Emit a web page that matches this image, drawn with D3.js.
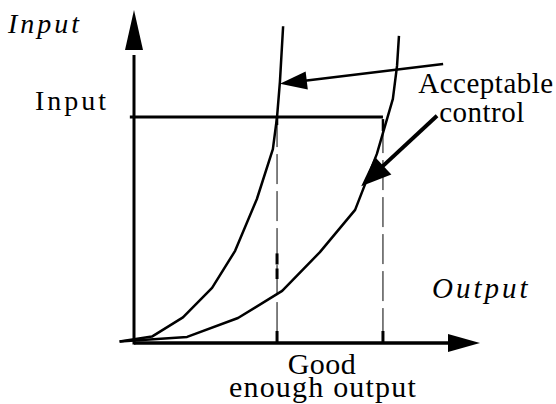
<!DOCTYPE html>
<html>
<head>
<meta charset="utf-8">
<script src="https://cdn.jsdelivr.net/npm/d3@7"></script>
<style>
  body { margin: 0; background: #fff; }
</style>
</head>
<body>
<div id="chart"></div>
<script>
// curve values, output (x) vs input (y)
const steepOutput = [-0.45, 0.56, 1.53, 2.44, 3.16, 3.84, 4.34, 4.47, 4.56, 4.66];
const steepInput  = [0.05, 0.2, 0.8, 1.72, 2.88, 4.5, 6.06, 7.06, 8.16, 9.9];

const flatOutput = [-0.45, 1.66, 3.25, 4.63, 5.81, 6.91, 7.59, 8.09, 8.22, 8.28];
const flatInput  = [0.05, 0.19, 0.78, 1.63, 2.84, 4.16, 5.91, 7.63, 8.66, 9.6];

const inputLevel = 7.06;
const goodOutputs = [4.47, 7.78];

// arrows pointing at the two curves
const pointers = [
    { from: [9.66, 8.72], to: [4.56, 8.1], width: 2.5, head: 27, half: 9 },
    { from: [9.47, 7.1],  to: [7.1, 4.9],  width: 4,   head: 30, half: 12 }
];

const W = 556, H = 404;

const svg = d3.select('#chart')
    .append('svg')
    .attr('width', W)
    .attr('height', H);

const x = d3.scaleLinear().domain([0, 10]).range([134, 454]);
const y = d3.scaleLinear().domain([0, 10]).range([343, 23]);

function arrowHead(tx, ty, fx, fy, len, half) {
    const dx = tx - fx, dy = ty - fy;
    const d = Math.sqrt(dx * dx + dy * dy);
    const ux = dx / d, uy = dy / d;
    const bx = tx - ux * len, by = ty - uy * len;
    return `M${tx},${ty}L${bx - uy * half},${by + ux * half}L${bx + uy * half},${by - ux * half}Z`;
}

// dashed guides down to the axis
goodOutputs.forEach((v, i) => {
    svg.append('line')
        .attr('x1', x(v)).attr('x2', x(v))
        .attr('y1', y(inputLevel) + (i ? 6 : 0)).attr('y2', y(0))
        .attr('stroke', '#000')
        .attr('stroke-width', 1)
        .attr('stroke-dasharray', '30,7');
    // short thick ticks at both ends
    svg.append('line')
        .attr('x1', x(v)).attr('x2', x(v))
        .attr('y1', y(0) - 12).attr('y2', y(0))
        .attr('stroke', '#000').attr('stroke-width', 3);
    svg.append('line')
        .attr('x1', x(v)).attr('x2', x(v))
        .attr('y1', y(inputLevel) + (i ? 2 : 0)).attr('y2', y(inputLevel) + (i ? 14 : 8))
        .attr('stroke', '#000').attr('stroke-width', 2.5);
});
svg.append('line')
    .attr('x1', x(goodOutputs[0])).attr('x2', x(goodOutputs[0]))
    .attr('y1', y(2.8)).attr('y2', y(2.0))
    .attr('stroke', '#000').attr('stroke-width', 3)
    .attr('stroke-dasharray', '11,4');

// input level line
svg.append('line')
    .attr('x1', x(-0.13)).attr('x2', x(goodOutputs[1]))
    .attr('y1', y(inputLevel)).attr('y2', y(inputLevel))
    .attr('stroke', '#000')
    .attr('stroke-width', 3);

// axes
svg.append('line')
    .attr('x1', x(0)).attr('x2', x(0))
    .attr('y1', y(-0.05)).attr('y2', y(9))
    .attr('stroke', '#000').attr('stroke-width', 3);
svg.append('path')
    .attr('d', arrowHead(x(0), 10, x(0), 60, 40, 9))
    .attr('fill', '#000');

svg.append('line')
    .attr('x1', x(0)).attr('x2', x(9.9))
    .attr('y1', y(0)).attr('y2', y(0))
    .attr('stroke', '#000').attr('stroke-width', 3.5);
svg.append('path')
    .attr('d', arrowHead(480, y(0), 400, y(0), 32, 9))
    .attr('fill', '#000');

// curves
const line = d3.line()
    .x(d => x(d[0]))
    .y(d => y(d[1]));

[[steepOutput, steepInput], [flatOutput, flatInput]].forEach(([xs, ys]) => {
    svg.append('path')
        .datum(xs.map((v, i) => [v, ys[i]]))
        .attr('fill', 'none')
        .attr('stroke', '#000')
        .attr('stroke-width', 2.5)
        .attr('stroke-linejoin', 'round')
        .attr('d', line);
});

// pointer arrows
pointers.forEach(p => {
    const fx = x(p.from[0]), fy = y(p.from[1]);
    const tx = x(p.to[0]), ty = y(p.to[1]);
    const d = Math.hypot(tx - fx, ty - fy);
    const ex = tx - (tx - fx) / d * (p.head - 2);
    const ey = ty - (ty - fy) / d * (p.head - 2);
    svg.append('line')
        .attr('x1', fx).attr('y1', fy)
        .attr('x2', ex).attr('y2', ey)
        .attr('stroke', '#000')
        .attr('stroke-width', p.width);
    svg.append('path')
        .attr('d', arrowHead(tx, ty, fx, fy, p.head, p.half))
        .attr('fill', '#000');
});

// labels
function label(txt, px, py, size, opts = {}) {
    svg.append('text')
        .attr('x', px)
        .attr('y', py)
        .attr('text-anchor', opts.anchor || 'start')
        .style('font-family', '"Liberation Serif"')
        .style('font-size', size + 'px')
        .style('font-style', opts.italic ? 'italic' : 'normal')
        .style('letter-spacing', (opts.ls || 0) + 'px')
        .text(txt);
}

label('Input', 8, 33, 28, { italic: true, ls: 3 });
label('Input', 35, 110, 28, { ls: 3 });
label('Acceptable', 486, 93, 29, { anchor: 'middle', ls: 0.5 });
label('control', 482, 122, 29, { anchor: 'middle', ls: 0.5 });
label('Output', 432, 298, 29, { italic: true, ls: 3 });
label('Good', 322, 374, 30, { anchor: 'middle', ls: 0.5 });
label('enough output', 323, 397, 30, { anchor: 'middle', ls: 1.2 });
</script>
</body>
</html>
